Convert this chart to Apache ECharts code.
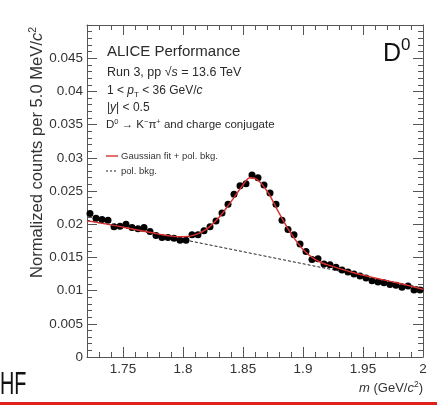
<!DOCTYPE html>
<html>
<head>
<meta charset="utf-8">
<script src="https://cdn.jsdelivr.net/npm/echarts@6/dist/echarts.min.js"></script>
<style>
html,body{margin:0;padding:0;background:#fff;}
#c{width:437px;height:405px;}
</style>
</head>
<body>
<div id="c"></div>
<script>
// ---- data ----
const binCenters = [
  1.7225,1.7275,1.7325,1.7375,1.7425,1.7475,1.7525,1.7575,1.7625,1.7675,
  1.7725,1.7775,1.7825,1.7875,1.7925,1.7975,1.8025,1.8075,1.8125,1.8175,
  1.8225,1.8275,1.8325,1.8375,1.8425,1.8475,1.8525,1.8575,1.8625,1.8675,
  1.8725,1.8775,1.8825,1.8875,1.8925,1.8975,1.9025,1.9075,1.9125,1.9175,
  1.9225,1.9275,1.9325,1.9375,1.9425,1.9475,1.9525,1.9575,1.9625,1.9675,
  1.9725,1.9775,1.9825,1.9875,1.9925,1.9975
];
const counts = [
  0.0216,0.0209,0.0207,0.0206,0.0196,0.0197,0.0200,0.0195,0.0193,0.0195,
  0.0189,0.0183,0.0180,0.0180,0.0179,0.0176,0.0176,0.0184,0.0184,0.0190,
  0.0196,0.0205,0.0217,0.0230,0.0245,0.0258,0.0261,0.0274,0.0270,0.0259,
  0.0247,0.0230,0.0206,0.0192,0.0184,0.0170,0.0159,0.0147,0.0148,0.0140,
  0.0139,0.0135,0.0131,0.0128,0.0125,0.0122,0.0119,0.0115,0.0113,0.0112,
  0.0109,0.0108,0.0105,0.0107,0.0101,0.0101
];
const fitX = [1.72,1.74,1.76,1.78,1.79,1.80,1.81,1.82,1.83,1.84,1.85,1.856,1.86,1.87,1.88,1.89,1.90,1.91,1.92,1.94,1.96,1.98,2.00];
const fitY = [0.0205,0.0199,0.0192,0.0185,0.0182,0.0181,0.0184,0.0193,0.0210,0.0234,0.0259,0.0270,0.0269,0.0250,0.0217,0.0186,0.0162,0.0147,0.0139,0.0128,0.0119,0.0111,0.0102];
const bkgX = [1.72, 2.00];
const bkgY = [0.0206, 0.0104];
const xMajorTicks = [1.75,1.8,1.85,1.9,1.95,2.0];
const xMinorTicks = [1.72,1.73,1.74,1.75,1.76,1.77,1.78,1.79,1.80,1.81,1.82,1.83,1.84,1.85,1.86,1.87,1.88,1.89,1.90,1.91,1.92,1.93,1.94,1.95,1.96,1.97,1.98,1.99,2.00];
const yTickLabels = ['0','0.005','0.01','0.015','0.02','0.025','0.03','0.035','0.04','0.045'];
const legendNames = ['Gaussian fit + pol. bkg.', 'pol. bkg.'];

const FONT = '"Liberation Sans", Arial, Helvetica, sans-serif';
const AX = '#555';
const TXT = '#2a2a2a';
const RED = '#d8302f';
const X0 = 1.72, X1 = 2.0, Y0 = 0, Y1 = 0.05;

function xAxisDef(pos, major, showLabel) {
  return {
    type: 'value', position: pos, min: X0, max: X1, scale: true,
    axisLine: {show: major, onZero: false, lineStyle: {color: AX, width: 1}},
    splitLine: {show: false},
    axisTick: {show: true, inside: true, length: major ? 10 : 5,
      customValues: major ? xMajorTicks : xMinorTicks, lineStyle: {color: AX, width: 1}},
    axisLabel: {show: showLabel, customValues: xMajorTicks, margin: 5,
      color: '#333', fontFamily: FONT, fontSize: 13.5,
      formatter: v => String(+(+v).toFixed(2))}
  };
}
function yAxisDef(pos, showLabel) {
  return {
    type: 'value', position: pos, min: Y0, max: Y1, interval: 0.005,
    axisLine: {show: true, onZero: false, lineStyle: {color: AX, width: 1}},
    splitLine: {show: false},
    axisTick: {show: true, inside: true, length: 10, lineStyle: {color: AX}},
    minorTick: {show: true, splitNumber: 5, length: 5, lineStyle: {color: AX}},
    axisLabel: {show: showLabel, showMaxLabel: false, margin: 4,
      color: '#333', fontFamily: FONT, fontSize: 13.5,
      formatter: v => { const i = Math.round(v / 0.005); return i < yTickLabels.length ? yTickLabels[i] : ''; }}
  };
}

const chart = echarts.init(document.getElementById('c'), null, {renderer: 'canvas'});
chart.setOption({
  animation: false,
  backgroundColor: '#fff',
  grid: {left: 87, right: 14, top: 25, bottom: 48},
  xAxis: [xAxisDef('bottom', true, true), xAxisDef('bottom', false, false),
          xAxisDef('top', true, false), xAxisDef('top', false, false)],
  yAxis: [yAxisDef('left', true), yAxisDef('right', false)],
  series: [
    {
      name: legendNames[1], type: 'line', xAxisIndex: 0, yAxisIndex: 0,
      data: bkgX.map((x, i) => [x, bkgY[i]]), symbol: 'none', z: 2,
      lineStyle: {color: '#222', width: 1, type: [3, 2]}
    },
    {
      name: 'data', type: 'scatter', xAxisIndex: 0, yAxisIndex: 0,
      data: binCenters.map((x, i) => [x, counts[i]]),
      symbol: 'circle', symbolSize: 7, itemStyle: {color: '#000', opacity: 1}, z: 3
    },
    {
      name: legendNames[0], type: 'line', xAxisIndex: 0, yAxisIndex: 0,
      data: fitX.map((x, i) => [x, fitY[i]]), symbol: 'none', smooth: 0.4, z: 4,
      lineStyle: {color: RED, width: 1.4}
    }
  ],
  graphic: [
    {type: 'text', x: 37, y: 278, rotation: Math.PI / 2,
      style: {text: 'Normalized counts per 5.0 MeV/{i|c}{sup|2}', fill: '#333',
        font: '16.6px ' + FONT, align: 'left', verticalAlign: 'middle',
        rich: {i: {fontStyle: 'italic', fontSize: 16.6, fontFamily: FONT, fill: '#333'},
               sup: {fontSize: 10.5, fontFamily: FONT, fill: '#333', padding: [0,0,7,0]}}}},
    {type: 'text', x: 423, y: 388,
      style: {text: '{i|m} (GeV/{i|c}{sup|2})', fill: '#333', font: '13px ' + FONT,
        align: 'right', verticalAlign: 'middle',
        rich: {i: {fontStyle: 'italic', fontSize: 13, fontFamily: FONT, fill: '#333'},
               sup: {fontSize: 8.5, fontFamily: FONT, fill: '#333', padding: [0,0,6,0]}}}},
    {type: 'text', x: 107, y: 52,
      style: {text: 'ALICE Performance', fill: TXT, font: '15px ' + FONT, verticalAlign: 'middle'}},
    {type: 'text', x: 107, y: 73,
      style: {text: 'Run 3, pp \u221A{i|s} = 13.6 TeV', fill: TXT, font: '12.5px ' + FONT, verticalAlign: 'middle',
        rich: {i: {fontStyle: 'italic', fontSize: 12.5, fontFamily: FONT, fill: TXT}}}},
    {type: 'text', x: 107, y: 91,
      style: {text: '1 < {i|p}{sub|T} < 36 GeV/{i|c}', fill: TXT, font: '12px ' + FONT, verticalAlign: 'middle',
        rich: {i: {fontStyle: 'italic', fontSize: 12, fontFamily: FONT, fill: TXT},
               sub: {fontSize: 8, fontFamily: FONT, fill: TXT, padding: [7,0,0,0]}}}},
    {type: 'text', x: 107, y: 108,
      style: {text: '|{i|y}| < 0.5', fill: TXT, font: '12px ' + FONT, verticalAlign: 'middle',
        rich: {i: {fontStyle: 'italic', fontSize: 12, fontFamily: FONT, fill: TXT}}}},
    {type: 'text', x: 106, y: 125,
      style: {text: 'D{sup|0} \u2192 K{sup|\u2212}\u03C0{sup|+} and charge conjugate', fill: TXT, font: '11.5px ' + FONT, verticalAlign: 'middle',
        rich: {sup: {fontSize: 7.5, fontFamily: FONT, fill: TXT, padding: [0,0,6,0]}}}},
    {type: 'line', shape: {x1: 106, y1: 156, x2: 118, y2: 156}, style: {stroke: RED, lineWidth: 1.4}},
    {type: 'text', x: 121, y: 156,
      style: {text: legendNames[0], fill: '#333', font: '9.5px ' + FONT, verticalAlign: 'middle'}},
    {type: 'line', shape: {x1: 106, y1: 171, x2: 118, y2: 171}, style: {stroke: '#222', lineWidth: 1, lineDash: [2, 2]}},
    {type: 'text', x: 121, y: 171,
      style: {text: legendNames[1], fill: '#333', font: '9.5px ' + FONT, verticalAlign: 'middle'}},
    {type: 'text', x: 383, y: 54,
      style: {text: 'D', fill: '#111', font: '25px ' + FONT, verticalAlign: 'middle'}},
    {type: 'text', x: 401, y: 45,
      style: {text: '0', fill: '#111', font: '17px ' + FONT, verticalAlign: 'middle'}},
    {type: 'text', x: 0, y: 385, scaleX: 0.62,
      style: {text: 'HF', fill: '#111', font: '32px ' + FONT, verticalAlign: 'middle'}},
    {type: 'rect', shape: {x: 0, y: 402, width: 437, height: 3}, style: {fill: '#e0201c'}}
  ]
});
</script>
</body>
</html>
